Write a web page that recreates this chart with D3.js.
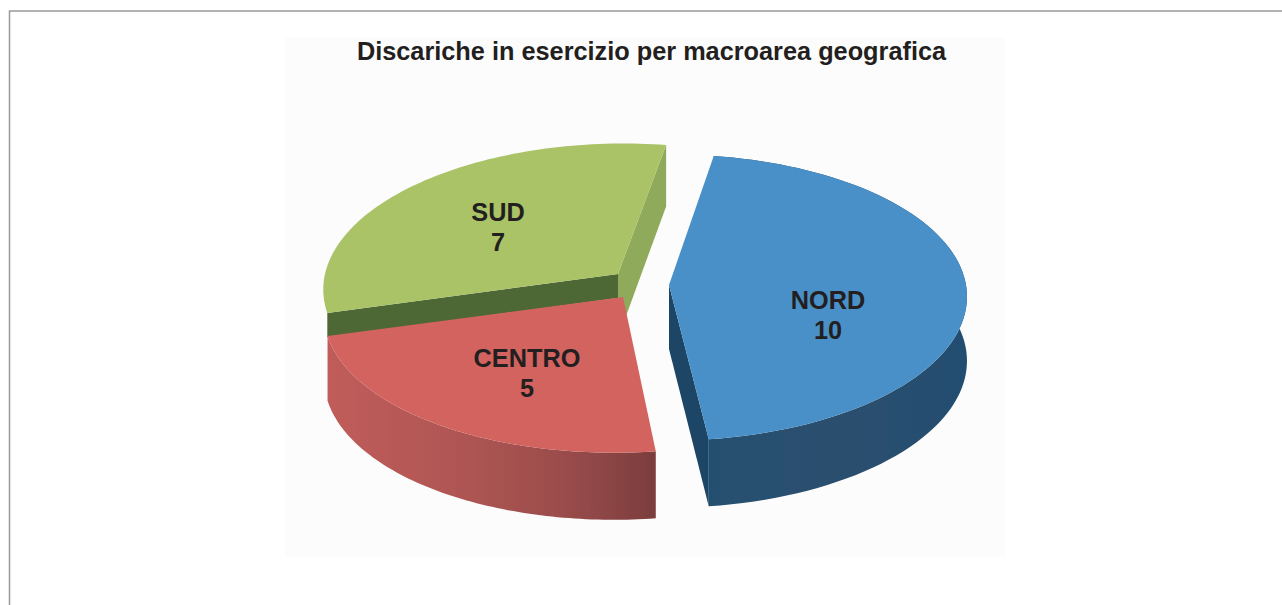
<!DOCTYPE html>
<html lang="it">
  <head>
    <meta charset="utf-8" />
    <title>Discariche in esercizio per macroarea geografica</title>
    <script src="https://d3js.org/d3.v7.min.js"></script>
    <style>
      html, body { margin: 0; padding: 0; background: #fff; }
      svg { display: block; }
      text { font-family: "Liberation Sans", Arial, sans-serif; font-weight: bold; fill: #231f20; }
    </style>
  </head>
  <body>
    <div id="chart"></div>
    <script>
      // Chart data
      const categories = ["NORD", "CENTRO", "SUD"];
      const values = [10, 5, 7];
      const chartTitle = "Discariche in esercizio per macroarea geografica";

      // Layout of the 3D look
      const width = 1282, height = 605;
      const ry = 142, persp = 0.088, depth = 64;
      const firstAngle = (9 * Math.PI) / 180;
      const centres = { NORD: [669, 285], CENTRO: [623, 297], SUD: [618, 274] };
      const radiusX = { NORD: 297, CENTRO: 297, SUD: 293 };
      const skew = { NORD: 2, CENTRO: 9, SUD: 6 };
      const labelPos = { NORD: [828, 309], CENTRO: [527, 367], SUD: [498, 221] };

      const svg = d3.select("#chart").append("svg")
        .attr("width", width)
        .attr("height", height);

      // Gradients for the outer walls
      const defs = svg.append("defs");
      function addGradient(id, stops) {
        const g = defs.append("linearGradient").attr("id", id);
        stops.forEach(([o, c]) => g.append("stop").attr("offset", o).attr("stop-color", c));
      }
      addGradient("wall-CENTRO", [[0, "#c05c5a"], [0.35, "#b25755"], [0.7, "#9c4d4c"], [1, "#7c3d3d"]]);
      addGradient("wall-NORD", [[0, "#244f70"], [0.5, "#2c4f6e"], [1, "#234e70"]]);
      defs.append("filter").attr("id", "soft")
        .append("feGaussianBlur").attr("stdDeviation", 0.6);

      // Page frame and faint image patch
      svg.append("rect").attr("x", 285).attr("y", 38).attr("width", 720).attr("height", 519).attr("fill", "#fcfcfc");
      svg.append("path")
        .attr("d", d3.line()([[9.5, height], [9.5, 11], [width, 11]]))
        .attr("fill", "none").attr("stroke", "#999").attr("stroke-width", 1.5);

      // Slices from the values
      const slices = d3.pie().sort(null)
        .startAngle(firstAngle).endAngle(firstAngle + 2 * Math.PI)(values)
        .map((d, i) => ({ ...d, name: categories[i] }));
      const byName = Object.fromEntries(slices.map((s) => [s.name, s]));

      // Angle on the disc to picture position, drop = how far down the wall
      function project(name, a, drop = 0) {
        const [cx, cy] = centres[name];
        const u = Math.sin(a), v = Math.cos(a);
        const s = 1 / (1 + persp * v);
        return [cx + radiusX[name] * u * s + skew[name] * v, cy - ry * v * s + drop * (1 + 0.5 * (s - 1))];
      }
      function rim(slice, drop = 0) {
        const n = 80;
        return d3.range(n + 1).map((i) =>
          project(slice.name, slice.startAngle + ((slice.endAngle - slice.startAngle) * i) / n, drop));
      }
      const line = d3.line();
      const pie3d = svg.append("g").attr("filter", "url(#soft)");

      function topFace(slice, colour) {
        const apex = centres[slice.name];
        pie3d.append("path").attr("d", line([apex, ...rim(slice)]) + "Z").attr("fill", colour);
      }
      function outerWall(slice, fill) {
        pie3d.append("path")
          .attr("d", line([...rim(slice), ...rim(slice, depth).reverse()]) + "Z")
          .attr("fill", fill);
      }
      function sideWall(name, a, fill, drop = depth) {
        const c = centres[name];
        const p = project(name, a);
        const q = project(name, a, drop);
        pie3d.append("path")
          .attr("d", line([c, p, q, [c[0], c[1] + drop]]) + "Z")
          .attr("fill", fill);
      }

      // SUD first: CENTRO hides the lower part of its walls
      sideWall("SUD", byName.SUD.endAngle, "#90aa5b");
      sideWall("SUD", byName.SUD.startAngle, "#4e6736", 24);
      topFace(byName.SUD, "#a9c366");

      sideWall("NORD", byName.NORD.endAngle, "#1b4566");
      outerWall(byName.NORD, "url(#wall-NORD)");
      topFace(byName.NORD, "#4a90c8");

      outerWall(byName.CENTRO, "url(#wall-CENTRO)");
      topFace(byName.CENTRO, "#d2635f");

      // Title and labels
      svg.append("text").attr("x", 651.5).attr("y", 60).attr("text-anchor", "middle")
        .attr("font-size", 25.3).text(chartTitle);
      slices.forEach((s) => {
        const [x, y] = labelPos[s.name];
        const t = svg.append("text").attr("text-anchor", "middle").attr("font-size", 25.3);
        t.append("tspan").attr("x", x).attr("y", y).text(s.name);
        t.append("tspan").attr("x", x).attr("y", y + 30).text(s.value);
      });
    </script>
  </body>
</html>
